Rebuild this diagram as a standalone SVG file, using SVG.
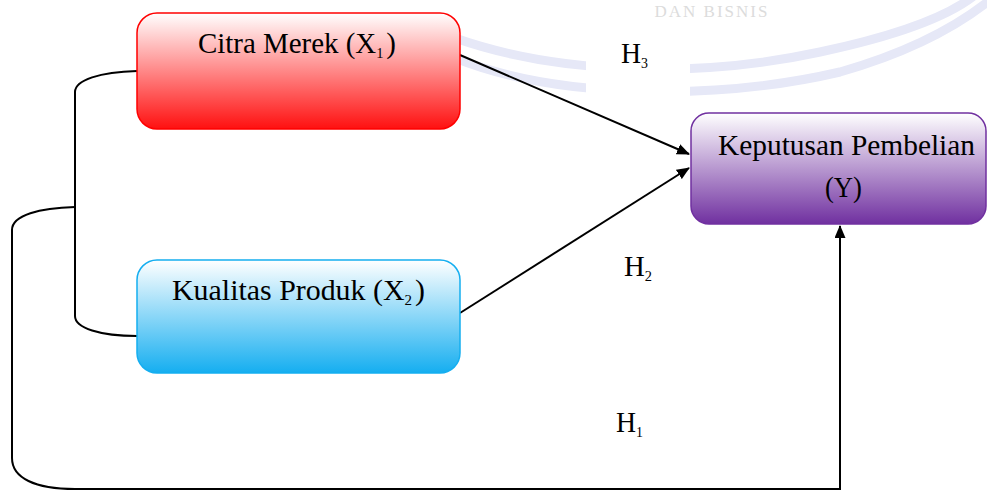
<svg xmlns="http://www.w3.org/2000/svg" width="987" height="491" viewBox="0 0 987 491">
<defs>
<linearGradient id="gRed" x1="0" y1="0" x2="0" y2="1"><stop offset="0" stop-color="#ffffff"/><stop offset="1" stop-color="#ff1010"/></linearGradient>
<linearGradient id="gBlue" x1="0" y1="0" x2="0" y2="1"><stop offset="0" stop-color="#ffffff"/><stop offset="1" stop-color="#15aef0"/></linearGradient>
<linearGradient id="gPurple" x1="0" y1="0" x2="0" y2="1"><stop offset="0" stop-color="#ffffff"/><stop offset="1" stop-color="#7030a0"/></linearGradient>
<marker id="arr" markerWidth="13" markerHeight="11" refX="12" refY="5.5" orient="auto" markerUnits="userSpaceOnUse"><path d="M0,0 L13,5.5 L0,11 z" fill="#000"/></marker>
</defs>
<style>
.lbl{font-family:"Liberation Serif","Times New Roman",serif;font-size:30px;fill:#000;}
.sub{font-size:15px;}
.wire{fill:none;stroke:#000;stroke-width:2;}
.wm{fill:none;stroke:#e6e8f7;stroke-width:9;}
</style>
<rect width="987" height="491" fill="#fff"/>
<g id="watermark">
<path class="wm" d="M455,38 C560,75 700,78 820,52 C900,35 950,15 975,-5"/>
<path class="wm" d="M455,58 C560,100 720,100 840,72 C910,52 955,28 990,0"/>
<text x="712" y="17" text-anchor="middle" font-family="Liberation Serif,serif" font-size="17" fill="#dcdcdc" letter-spacing="2">DAN BISNIS</text>
</g>
<g id="connectors">
<line class="wire" x1="460" y1="55" x2="689" y2="154" marker-end="url(#arr)"/>
<line class="wire" x1="460" y1="313" x2="689" y2="168" marker-end="url(#arr)"/>
<path class="wire" d="M137,71 C100,72 75,80 75,92 L75,316 C75,328 100,336 137,336"/>
<path class="wire" d="M75,207 C40,208 12,215 12,230 L12,458 C12,478 35,489 75,489 L840,489 L840,226" marker-end="url(#arr)"/>
</g>
<g id="h3">
<rect x="586" y="30" width="104" height="68" fill="#fff"/>
<text class="lbl" x="621" y="63" textLength="27" lengthAdjust="spacingAndGlyphs">H<tspan class="sub" dy="5">3</tspan></text>
</g>
<g id="h2">
<text class="lbl" x="624" y="276" textLength="28" lengthAdjust="spacingAndGlyphs">H<tspan class="sub" dy="5">2</tspan></text>
</g>
<g id="h1">
<text class="lbl" x="616" y="432" textLength="27" lengthAdjust="spacingAndGlyphs">H<tspan class="sub" dy="5">1</tspan></text>
</g>
<g id="citra">
<rect x="137" y="13" width="323" height="116" rx="20" fill="url(#gRed)" stroke="#ff0000" stroke-width="1.5"/>
<text class="lbl" x="198" y="53" textLength="198" lengthAdjust="spacingAndGlyphs">Citra Merek (X<tspan class="sub" dy="5">1</tspan><tspan dx="3" dy="-5">)</tspan></text>
</g>
<g id="kualitas">
<rect x="137" y="260" width="323" height="113" rx="20" fill="url(#gBlue)" stroke="#15aef0" stroke-width="1.5"/>
<text class="lbl" x="172" y="300" textLength="253" lengthAdjust="spacingAndGlyphs">Kualitas Produk (X<tspan class="sub" dy="5">2</tspan><tspan dx="3" dy="-5">)</tspan></text>
</g>
<g id="keputusan">
<rect x="691" y="113" width="295" height="111" rx="18" fill="url(#gPurple)" stroke="#7030a0" stroke-width="1.5"/>
<text class="lbl" x="718" y="155" textLength="257" lengthAdjust="spacingAndGlyphs">Keputusan Pembelian</text>
<text class="lbl" x="825" y="197" textLength="37" lengthAdjust="spacingAndGlyphs">(Y)</text>
</g>
</svg>
